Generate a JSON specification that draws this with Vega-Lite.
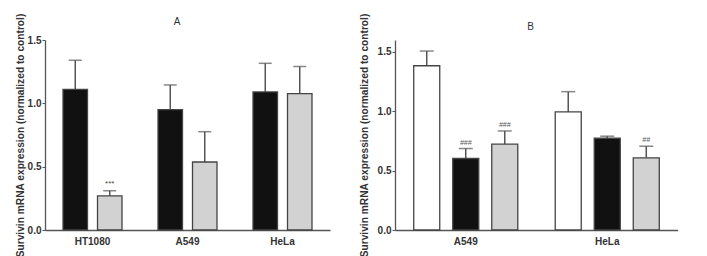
{
  "$schema": "https://vega.github.io/schema/vega-lite/v6.json",
  "autosize": {"type": "pad"},
  "padding": {"left": 15, "top": 13, "right": 0, "bottom": 0},
  "background": "white",
  "spacing": 65,
  "bounds": "flush",
  "resolve": {"scale": {"x": "independent", "xOffset": "independent", "y": "independent"}},
  "config": {
    "view": {"stroke": null},
    "font": "Liberation Sans",
    "axis": {"grid": false, "domainColor": "#555", "domainWidth": 1.3, "tickColor": "#555", "labelColor": "#333", "labelFont": "Liberation Sans", "labelFontWeight": "bold", "labelFontSize": 10, "titleFont": "Liberation Sans", "titleFontWeight": "bold", "titleFontSize": 10.2, "titleColor": "#333"},
    "axisX": {"ticks": false, "labelAngle": 0, "labelPadding": 6, "title": null},
    "axisY": {"tickSize": 3, "labelPadding": 1, "titlePadding": 2},
    "title": {"font": "Liberation Sans", "fontSize": 10, "fontWeight": "normal", "color": "#333", "frame": "group", "baseline": "alphabetic"}
  },
  "hconcat": [
    {
      "width": 285,
      "height": 190,
      "title": {"text": "A", "dx": -10.5, "offset": -14},
      "data": {"values": [
        {"group": "HT1080", "series": "black", "value": 1.11, "upper": 1.34, "note": ""},
        {"group": "HT1080", "series": "gray", "value": 0.27, "upper": 0.31, "note": "***"},
        {"group": "A549", "series": "black", "value": 0.95, "upper": 1.145, "note": ""},
        {"group": "A549", "series": "gray", "value": 0.537, "upper": 0.776, "note": ""},
        {"group": "HeLa", "series": "black", "value": 1.09, "upper": 1.316, "note": ""},
        {"group": "HeLa", "series": "gray", "value": 1.076, "upper": 1.29, "note": ""}
      ]},
      "encoding": {
        "x": {"field": "group", "type": "nominal", "sort": ["HT1080", "A549", "HeLa"], "scale": {"paddingInner": 0, "paddingOuter": 0}},
        "xOffset": {"field": "series", "type": "nominal", "scale": {"domain": ["black", "gray"], "paddingInner": 0.29, "paddingOuter": 0.522}}
      },
      "layer": [
        {
          "mark": {"type": "rule", "stroke": "#555", "strokeWidth": 1.5},
          "encoding": {"y": {"field": "value", "type": "quantitative", "scale": {"domain": [0, 1.5], "nice": false}}, "y2": {"field": "upper"}}
        },
        {
          "mark": {"type": "tick", "color": "#555", "size": 13, "thickness": 1.5},
          "encoding": {"y": {"field": "upper", "type": "quantitative"}}
        },
        {
          "mark": {"type": "bar", "stroke": "#444", "strokeWidth": 1.3},
          "encoding": {
            "y": {"field": "value", "type": "quantitative", "scale": {"domain": [0, 1.5], "nice": false}, "axis": {"values": [0, 0.5, 1.0, 1.5], "format": ".1f", "title": "Survivin mRNA expression (normalized to control)"}},
            "fill": {"field": "series", "type": "nominal", "scale": {"domain": ["white", "black", "gray"], "range": ["#ffffff", "#111111", "#d2d2d2"]}, "legend": null}
          }
        },
        {
          "mark": {"type": "text", "baseline": "bottom", "dy": -3, "fontSize": 8, "color": "#444"},
          "encoding": {"y": {"field": "upper", "type": "quantitative"}, "text": {"field": "note"}}
        }
      ]
    },
    {
      "width": 283,
      "height": 190,
      "title": {"text": "B", "dx": -6, "offset": -19},
      "data": {"values": [
        {"group": "A549", "series": "white", "value": 1.383, "upper": 1.507, "note": ""},
        {"group": "A549", "series": "black", "value": 0.602, "upper": 0.686, "note": "###"},
        {"group": "A549", "series": "gray", "value": 0.723, "upper": 0.834, "note": "###"},
        {"group": "HeLa", "series": "white", "value": 0.994, "upper": 1.165, "note": ""},
        {"group": "HeLa", "series": "black", "value": 0.773, "upper": 0.79, "note": ""},
        {"group": "HeLa", "series": "gray", "value": 0.608, "upper": 0.706, "note": "##"}
      ]},
      "encoding": {
        "x": {"field": "group", "type": "nominal", "sort": ["A549", "HeLa"], "scale": {"paddingInner": 0, "paddingOuter": 0}},
        "xOffset": {"field": "series", "type": "nominal", "scale": {"domain": ["white", "black", "gray"], "paddingInner": 0.333, "paddingOuter": 0.48}}
      },
      "layer": [
        {
          "mark": {"type": "rule", "stroke": "#555", "strokeWidth": 1.5},
          "encoding": {"y": {"field": "value", "type": "quantitative", "scale": {"domain": [0, 1.6], "nice": false}}, "y2": {"field": "upper"}}
        },
        {
          "mark": {"type": "tick", "color": "#555", "size": 14, "thickness": 1.5},
          "encoding": {"y": {"field": "upper", "type": "quantitative"}}
        },
        {
          "mark": {"type": "bar", "stroke": "#444", "strokeWidth": 1.3},
          "encoding": {
            "y": {"field": "value", "type": "quantitative", "scale": {"domain": [0, 1.6], "nice": false}, "axis": {"values": [0, 0.5, 1.0, 1.5], "format": ".1f", "title": "Survivin mRNA expression (normalized to control)", "titlePadding": 8}},
            "fill": {"field": "series", "type": "nominal", "scale": {"domain": ["white", "black", "gray"], "range": ["#ffffff", "#111111", "#d2d2d2"]}, "legend": null}
          }
        },
        {
          "mark": {"type": "text", "baseline": "bottom", "dy": -3, "fontSize": 7, "fontStyle": "italic", "color": "#555"},
          "encoding": {"y": {"field": "upper", "type": "quantitative"}, "text": {"field": "note"}}
        }
      ]
    }
  ]
}
